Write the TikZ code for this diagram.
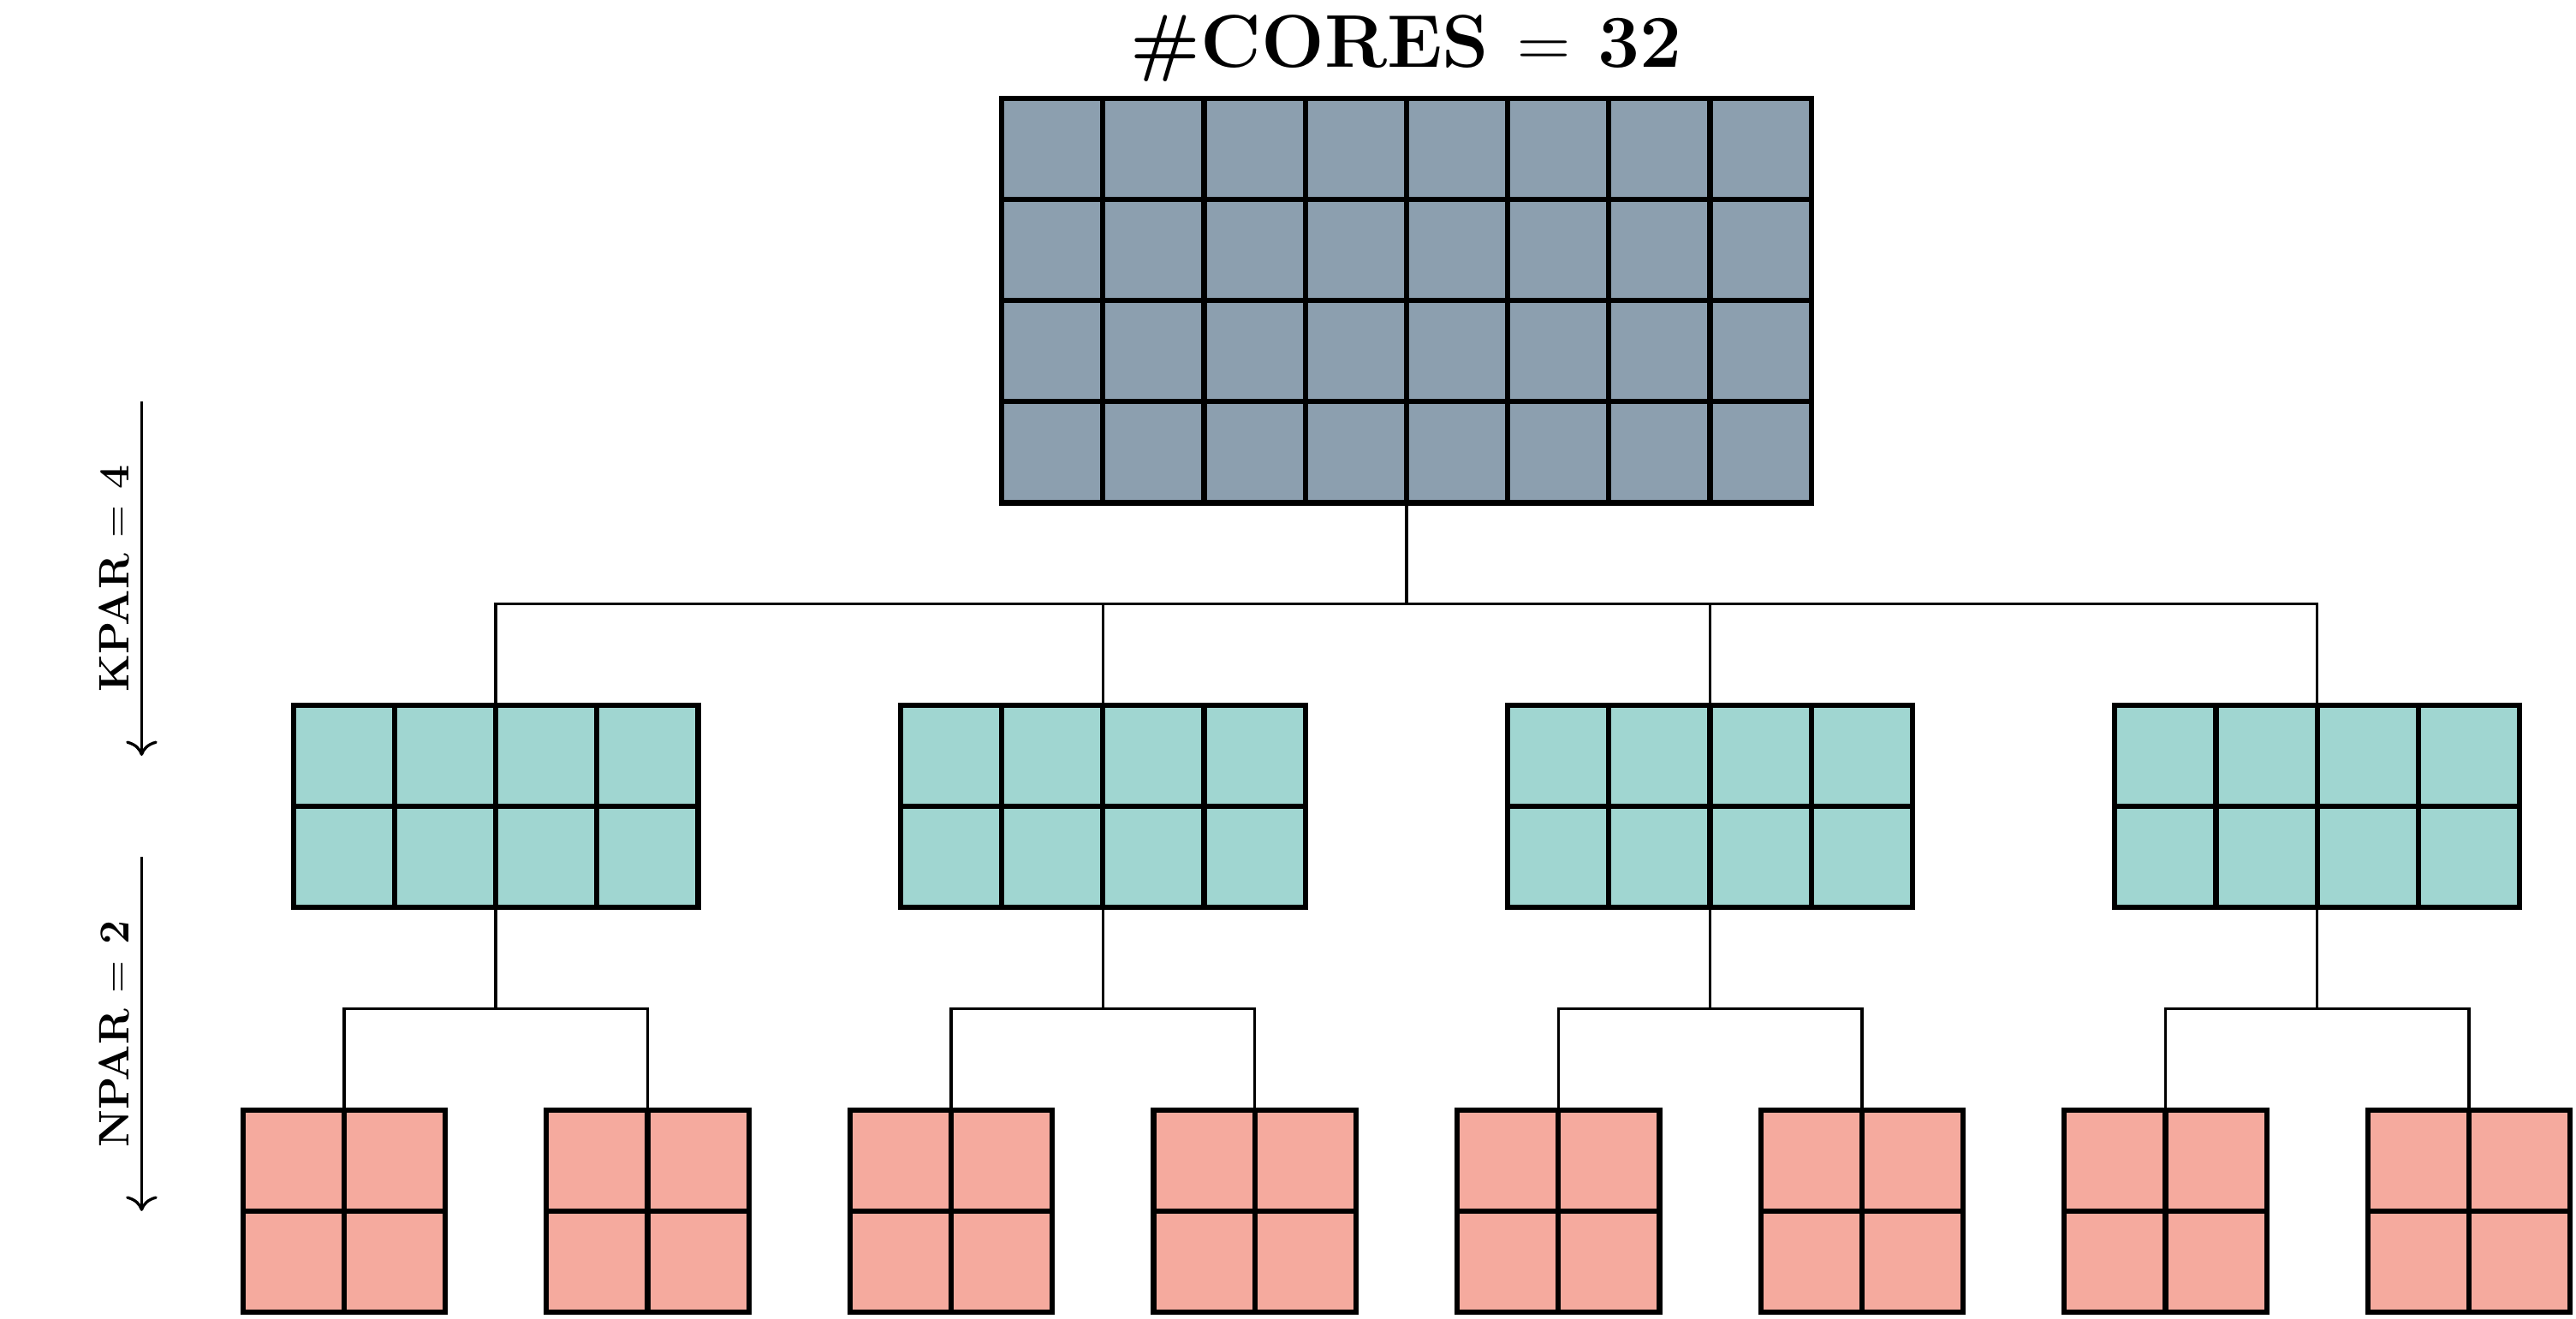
\documentclass[tikz,border=0pt]{standalone}
\usetikzlibrary{calc,arrows.meta}
\definecolor{slate}{RGB}{140,159,175}
\definecolor{tealc}{RGB}{160,214,209}
\definecolor{pinkc}{RGB}{245,170,158}
\tikzset{
  cellbox/.style={draw=black, line width=1.5pt, inner sep=0pt, outer sep=0pt, rectangle},
  topbox/.style={cellbox, fill=slate, minimum width=8cm, minimum height=4cm},
  kbox/.style={cellbox, fill=tealc, minimum width=4cm, minimum height=2cm},
  nbox/.style={cellbox, fill=pinkc, minimum width=2cm, minimum height=2cm},
  gridline/.style={line width=1.5pt},
  link/.style={line width=0.8pt},
  levelarrow/.style={line width=0.8pt, -{To[scale=1.25]}},
  levellabel/.style={rotate=90, anchor=base, inner sep=0pt, font=\large\bfseries},
  titlelabel/.style={anchor=base, inner sep=0pt, font=\fontsize{21}{25}\selectfont\bfseries},
}
\begin{document}
\begin{tikzpicture}
\useasboundingbox (-13.90,-12.059) rectangle (11.557,0.970);

\coordinate (topbus) at (0,-5);

% top box
\node[topbox] (top) at (0,-2) {};
\foreach \i in {1,...,7}
  \draw[gridline] ($(top.north west)+(\i,0)$) -- ($(top.south west)+(\i,0)$);
\foreach \j in {1,2,3}
  \draw[gridline] ($(top.north west)+(0,-\j)$) -- ($(top.north east)+(0,-\j)$);

% KPAR groups
\foreach \k/\x in {1/-9,2/-3,3/3,4/9}{
  \node[kbox] (k\k) at (\x,-7) {};
  \foreach \i in {1,2,3}
    \draw[gridline] ($(k\k.north west)+(\i,0)$) -- ($(k\k.south west)+(\i,0)$);
  \draw[gridline] (k\k.west) -- (k\k.east);
}

% NPAR groups
\foreach \k/\x in {1/-10.5,2/-7.5,3/-4.5,4/-1.5,5/1.5,6/4.5,7/7.5,8/10.5}{
  \node[nbox] (n\k) at (\x,-11) {};
  \draw[gridline] (n\k.north) -- (n\k.south);
  \draw[gridline] (n\k.west) -- (n\k.east);
}

% connectors from KPAR groups to NPAR groups
\foreach \k/\a/\b in {1/1/2,2/3/4,3/5/6,4/7/8}{
  \draw[link] (k\k.south) -- ++(0,-1);
  \draw[link] (n\a.north) -- ++(0,1) -| (n\b.north);
}
\draw[link] (top.south) -- (topbus);
\draw[link] (k1.north) -- ++(0,1) -| (k4.north);
\draw[link] (k2.north) -- ++(0,1);
\draw[link] (k3.north) -- ++(0,1);

% title
\node[titlelabel] (title) at (0,0.302) {\#CORES $=$ 32};

% level arrows
\coordinate (ka) at (-12.5,-3);
\coordinate (kb) at (-12.5,-6.5);
\coordinate (na) at (-12.5,-7.5);
\coordinate (nb) at (-12.5,-11);
\draw[levelarrow] (ka) -- (kb);
\draw[levelarrow] (na) -- (nb);
\node[levellabel] (klab) at ($(ka)!0.5!(kb)+(-0.13,0)$) {KPAR $=$ 4};
\node[levellabel] (nlab) at ($(na)!0.5!(nb)+(-0.13,0)$) {NPAR $=$ 2};
\end{tikzpicture}
\end{document}
